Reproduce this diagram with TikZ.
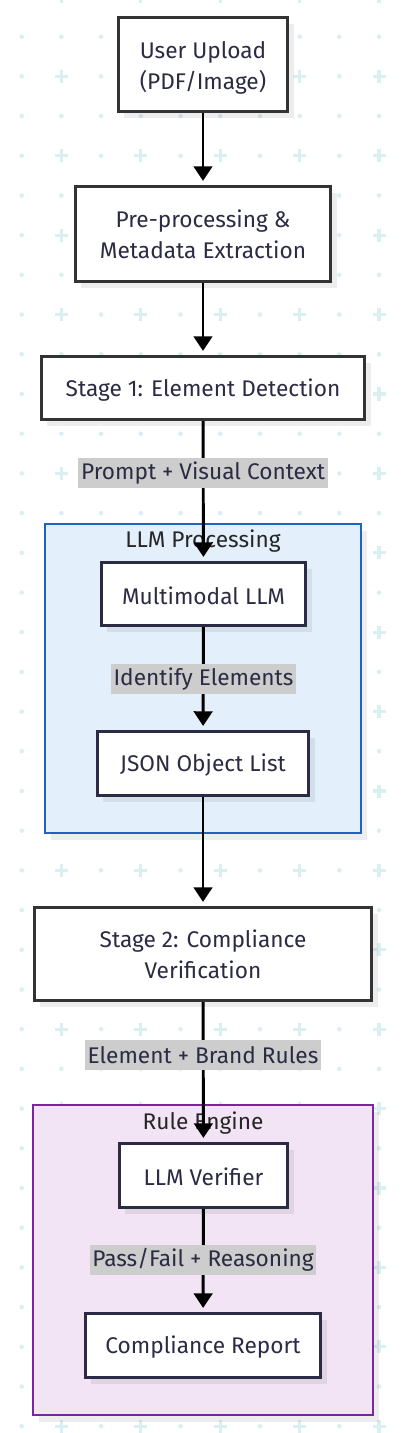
\documentclass[tikz,border=0pt]{standalone}
\usepackage{fontspec}
\setmainfont{Fira Sans}
\usetikzlibrary{arrows.meta}
\definecolor{dotc}{HTML}{DAEFF2}
\definecolor{txt}{HTML}{2B2B44}
\definecolor{boxline}{HTML}{333333}
\definecolor{inline}{HTML}{2B2B44}
\definecolor{labelbg}{HTML}{CDCDCD}
\definecolor{bluefill}{HTML}{E3F0FB}
\definecolor{blueline}{HTML}{1F62BF}
\definecolor{purfill}{HTML}{F2E4F4}
\definecolor{purline}{HTML}{7B25A0}
\tikzset{
  shad/.style={preaction={fill=black,opacity=0.07,transform canvas={xshift=4.5pt,yshift=-5pt}}},
  box/.style={draw=boxline,line width=2.1pt,fill=white,shad,inner sep=0pt},
  inbox/.style={box,draw=inline},
  btext/.style={text=txt,align=center,inner sep=0pt,font=\fontsize{17}{23.25}\selectfont},
  lbl/.style={fill=labelbg,text=txt,inner xsep=2pt,inner ysep=0pt,minimum height=22.5pt,
    font=\fontsize{17}{25}\selectfont},
  cluster/.style={line width=1.7pt,shad,inner sep=0pt},
  ctitle/.style={text=black!85,inner sep=0pt,font=\fontsize{17}{25}\selectfont},
  conn/.style={line width=2.2pt,-{Triangle[width=14pt,length=11pt]},shorten >=3pt}
}
\begin{document}
\begin{tikzpicture}[x=0.75pt,y=-0.75pt]
\useasboundingbox (0,0) rectangle (408,1433);
\fill[white] (0,0) rectangle (408,1433);
% background pattern
\foreach \i in {0,...,9} {
  \foreach \j in {0,...,36} {
    \pgfmathsetmacro\px{21.7+39.7*\i}
    \pgfmathsetmacro\py{-3+39.7*\j}
    \pgfmathtruncatemacro\pl{and(mod(\i,2)==1,mod(\j,2)==0)}
    \ifnum\pl=1
      \fill[dotc] (\px-6.5,\py-1.6) rectangle (\px+6.5,\py+1.6);
      \fill[dotc] (\px-1.6,\py-6.5) rectangle (\px+1.6,\py+6.5);
    \else
      \fill[dotc] (\px,\py) circle[radius=1.7pt];
    \fi
  }
}
% clusters
\node[cluster,draw=blueline,fill=bluefill,minimum width=237pt,minimum height=231.75pt] (c1) at (203,678.5) {};
\node[ctitle] (t1) at (203,541) {LLM Processing};
\node[cluster,draw=purline,fill=purfill,minimum width=255pt,minimum height=232.5pt] (c2) at (203,1260) {};
\node[ctitle] (t2) at (203,1123) {Rule Engine};
% node positions
\path
  (203,64.5) coordinate (p1)
  (203,234) coordinate (p2)
  (203,388) coordinate (p3)
  (203.5,594) coordinate (p4)
  (203,763.5) coordinate (p5)
  (203,954) coordinate (p6)
  (203.5,1175.5) coordinate (p7)
  (203,1345.5) coordinate (p8);
\node[box,minimum width=127pt,minimum height=70.75pt] (n1) at (p1) {};
\node[box,minimum width=191.5pt,minimum height=71.5pt] (n2) at (p2) {};
\node[box,minimum width=242.5pt,minimum height=47.5pt] (n3) at (p3) {};
\node[inbox,minimum width=153.25pt,minimum height=47.5pt] (n4) at (p4) {};
\node[inbox,minimum width=158.5pt,minimum height=48.25pt] (n5) at (p5) {};
\node[box,minimum width=253pt,minimum height=70pt] (n6) at (p6) {};
\node[inbox,minimum width=126.25pt,minimum height=48.25pt] (n7) at (p7) {};
\node[inbox,minimum width=176.5pt,minimum height=48.25pt] (n8) at (p8) {};
% node texts
\node[btext,yshift=-2.2pt] (n1t) at (n1.center) {User Upload\\(PDF/Image)};
\node[btext,yshift=0pt] (n2t) at (n2.center) {Pre-processing \&\\Metadata Extraction};
\node[btext,yshift=-1.2pt] (n3t) at (n3.center) {Stage 1: Element Detection};
\node[btext,yshift=-1.2pt] (n4t) at (n4.center) {Multimodal LLM};
\node[btext,yshift=-1.2pt] (n5t) at (n5.center) {JSON Object List};
\node[btext,yshift=-0.3pt] (n6t) at (n6.center) {Stage 2: Compliance\\Verification};
\node[btext,yshift=-1.2pt] (n7t) at (n7.center) {LLM Verifier};
\node[btext,yshift=-1.2pt] (n8t) at (n8.center) {Compliance Report};
% connectors
\draw[conn] (n1) -- (n2);
\draw[conn] (n2) -- (n3);
\draw[conn] (n3) -- (n4);
\draw[conn] (n4) -- (n5);
\draw[conn] (n5) -- (n6);
\draw[conn] (n6) -- (n7);
\draw[conn] (n7) -- (n8);
% labels
\node[lbl] (l1) at (203,473) {Prompt + Visual Context};
\node[lbl] (l2) at (203.5,679) {Identify Elements};
\node[lbl] (l3) at (203,1055) {Element + Brand Rules};
\node[lbl] (l4) at (203,1260) {Pass/Fail + Reasoning};
\end{tikzpicture}
\end{document}
